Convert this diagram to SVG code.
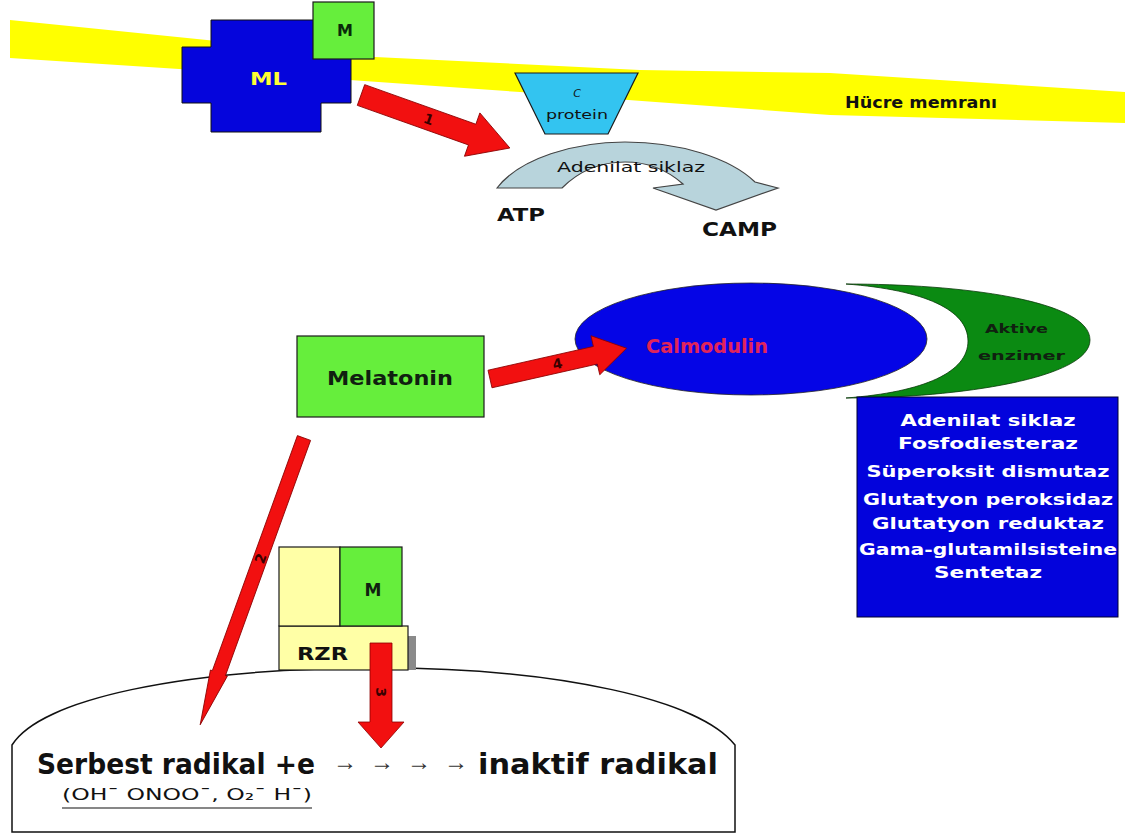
<svg xmlns="http://www.w3.org/2000/svg" width="1130" height="834" viewBox="0 0 1130 834">
<style>
  .t{font-family:"DejaVu Sans","Liberation Sans",sans-serif;font-weight:bold}
  .red{fill:#F21010;stroke:#8A0000;stroke-width:0.8}
  .lbl{font-family:"DejaVu Sans","Liberation Sans",sans-serif;font-size:14px;fill:#3a0000;font-weight:bold}
  .grn{fill:#66EE3C;stroke:#1a1a1a;stroke-width:1.2}
  .lyel{fill:#FFFFA6;stroke:#1a1a1a;stroke-width:1.2}
  .wt{fill:#ffffff;font-size:16px}
</style>
<rect width="1130" height="834" fill="#ffffff"/>

<g id="membrane">
  <polygon points="10,20 375,57 640,70 830,73 1125,92 1125,123 830,115 520,92 350,80 10,58" fill="#FFFF00"/>
  <text class="t" x="845" y="108" font-size="15" textLength="152" lengthAdjust="spacingAndGlyphs" fill="#111">Hücre memranı</text>
</g>

<g id="ML">
  <path d="M211,20 H321 V47 H351 V103 H321 V132 H211 V103 H182 V47 H211 Z" fill="#0505DC" stroke="#111" stroke-width="1"/>
  <text class="t" x="250" y="85" font-size="17" textLength="37" lengthAdjust="spacingAndGlyphs" fill="#FFFF33">ML</text>
</g>
<g id="M-top">
  <rect x="313" y="2" width="61" height="57" class="grn"/>
  <text class="t" x="345" y="36" font-size="16" text-anchor="middle" fill="#0A2A0A">M</text>
</g>

<g id="Cprotein">
  <polygon points="515,73 638,73 608,134 545,134" fill="#33C4F0" stroke="#1a1a1a" stroke-width="1.2"/>
  <text x="577" y="97" font-family="DejaVu Sans,Liberation Sans,sans-serif" font-size="11" font-style="italic" text-anchor="middle" fill="#111">C</text>
  <text x="577" y="119" font-family="DejaVu Sans,Liberation Sans,sans-serif" font-size="12" text-anchor="middle" textLength="62" lengthAdjust="spacingAndGlyphs" fill="#111">protein</text>
</g>

<g id="adenilat">
  <path d="M497,188 C520,158 575,142 625,142 C680,142 730,158 755,182 L778,188 L716,210 L653,188 L683,184 C665,168 645,162 625,162 C600,162 578,172 562,188 Z" fill="#B8D4DC" stroke="#444" stroke-width="1.2"/>
  <text x="557" y="172" font-family="DejaVu Sans,Liberation Sans,sans-serif" font-size="14" textLength="148" lengthAdjust="spacingAndGlyphs" fill="#111">Adenilat siklaz</text>
</g>
<g id="ATP">
  <text class="t" x="497" y="221" font-size="18" textLength="48" lengthAdjust="spacingAndGlyphs" fill="#111">ATP</text>
</g>
<g id="CAMP">
  <text class="t" x="702" y="236" font-size="20" textLength="75" lengthAdjust="spacingAndGlyphs" fill="#111">CAMP</text>
</g>

<g id="calmodulin">
  <ellipse cx="751" cy="339" rx="176" ry="56" fill="#0505E6" stroke="#222" stroke-width="0.8"/>
  <text class="t" x="646" y="353" font-size="19" textLength="122" lengthAdjust="spacingAndGlyphs" fill="#E0245A">Calmodulin</text>
</g>

<g id="aktive">
  <path d="M846,284 C960,284 1090,300 1090,340 C1090,378 960,398 846,398 C925,392 968,372 968,341 C968,310 925,290 846,284 Z" fill="#0B8A12" stroke="#0a3a0a" stroke-width="0.8"/>
  <text class="t" x="985" y="333" font-size="13" textLength="63" lengthAdjust="spacingAndGlyphs" fill="#102010" font-weight="normal">Aktive</text>
  <text class="t" x="978" y="360" font-size="13" textLength="87" lengthAdjust="spacingAndGlyphs" fill="#102010" font-weight="normal">enzimer</text>
</g>

<g id="enzymes">
  <rect x="857" y="397" width="261" height="220" fill="#0303DC" stroke="#000033" stroke-width="1"/>
  <g class="t wt" text-anchor="middle">
    <text x="988" y="426" textLength="175" lengthAdjust="spacingAndGlyphs">Adenilat siklaz</text>
    <text x="988" y="449" textLength="180" lengthAdjust="spacingAndGlyphs">Fosfodiesteraz</text>
    <text x="988" y="477" textLength="243" lengthAdjust="spacingAndGlyphs">Süperoksit dismutaz</text>
    <text x="988" y="505" textLength="250" lengthAdjust="spacingAndGlyphs">Glutatyon peroksidaz</text>
    <text x="988" y="529" textLength="232" lengthAdjust="spacingAndGlyphs">Glutatyon reduktaz</text>
    <text x="988" y="555" textLength="258" lengthAdjust="spacingAndGlyphs">Gama-glutamilsisteine</text>
    <text x="988" y="578" textLength="108" lengthAdjust="spacingAndGlyphs">Sentetaz</text>
  </g>
</g>

<g id="melatonin">
  <rect x="297" y="336" width="187" height="81" class="grn"/>
  <text class="t" x="327" y="385" font-size="20" textLength="126" lengthAdjust="spacingAndGlyphs" fill="#102010">Melatonin</text>
</g>

<g id="nucleus">
  <path d="M12,832 L12,745 C40,700 180,668 380,668 C560,668 700,700 735,745 L735,832 Z" fill="#ffffff" stroke="#111" stroke-width="1.5"/>
  <text class="t" x="37" y="774" font-size="28" textLength="278" lengthAdjust="spacingAndGlyphs" fill="#111">Serbest radikal +e</text>
  <text x="333" y="770" font-family="Liberation Sans,DejaVu Sans,sans-serif" font-size="24" textLength="135" lengthAdjust="spacing" fill="#333">→ → → →</text>
  <text class="t" x="478" y="774" font-size="28" textLength="240" lengthAdjust="spacingAndGlyphs" fill="#111">inaktif radikal</text>
  <text x="62" y="800" font-family="DejaVu Sans,Liberation Sans,sans-serif" font-size="16" textLength="250" lengthAdjust="spacingAndGlyphs" fill="#111">(OH¯ ONOO¯, O₂¯ H¯)</text>
  <line x1="62" y1="808" x2="312" y2="808" stroke="#111" stroke-width="1.2"/>
</g>

<g id="rzr">
  <rect x="408" y="636" width="8" height="34" fill="#8a8a8a"/>
  <rect x="279" y="626" width="129" height="44" class="lyel"/>
  <rect x="279" y="547" width="61" height="79" class="lyel"/>
  <rect x="340" y="547" width="62" height="79" class="grn"/>
  <text class="t" x="373" y="596" font-size="17" text-anchor="middle" fill="#102010">M</text>
  <text class="t" x="297" y="660" font-size="17" textLength="51" lengthAdjust="spacingAndGlyphs" fill="#111" font-weight="normal">RZR</text>
</g>

<g id="connectors">
  <g transform="translate(361,95) rotate(19.6)">
    <polygon class="red" points="0,-11 118,-11 118,-23 158,0 118,23 118,11 0,11"/>
    <text class="lbl" x="72" y="5" text-anchor="middle">1</text>
  </g>
  <g transform="translate(490,379) rotate(-12.7)">
    <polygon class="red" points="0,-9 108,-9 108,-20 140,0 108,20 108,9 0,9"/>
    <text class="lbl" x="69" y="5" text-anchor="middle">4</text>
  </g>
  <g transform="translate(304,438) rotate(109.9)">
    <polygon class="red" points="0,-7 250,-7 250,-9 305,0 250,9 250,7 0,7"/>
    <text class="lbl" x="128" y="5" text-anchor="middle" transform="rotate(180 128 0)">2</text>
  </g>
  <g>
    <polygon class="red" points="370,643 392,643 392,722 404,722 381,748 358,722 370,722"/>
    <text class="lbl" x="381" y="697" text-anchor="middle" transform="rotate(90 381 692)">3</text>
  </g>
</g>
</svg>
